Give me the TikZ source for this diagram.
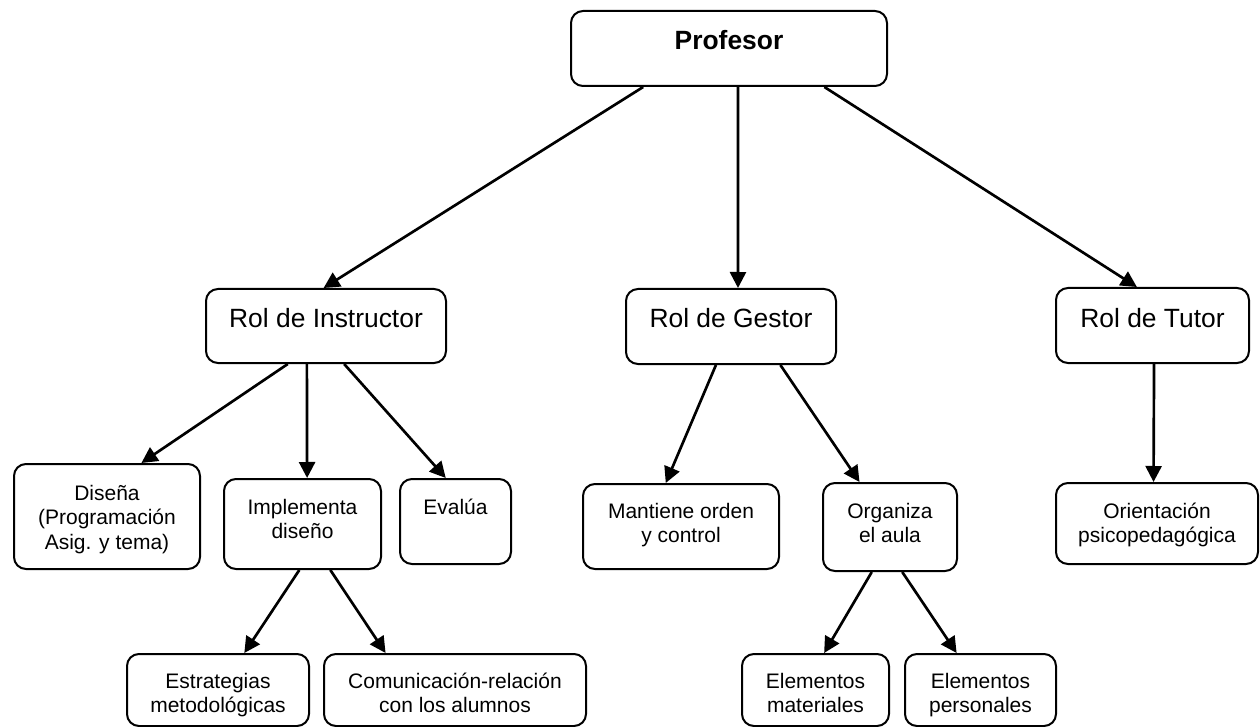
\documentclass[tikz,border=0pt]{standalone}
\usepackage{fontspec}
\setmainfont{Liberation Sans}
\usetikzlibrary{arrows.meta,calc}

% #1 width (px), #2 height (px), #3 first baseline from top (px), #4 text
\newcommand\cellbox[4]{%
  \parbox[c][\dimexpr0.75pt*#2\relax][t]{\dimexpr0.75pt*#1\relax}{%
    \centering\rule{0pt}{\dimexpr0.75pt*#3\relax}#4}}

\tikzset{
  box/.style={draw, line width=1.5pt, rounded corners=9pt, inner sep=0pt,
    anchor=north west},
  small/.style={font=\fontsize{15.75pt}{18.4pt}\selectfont},
  role/.style={font=\fontsize{19.8pt}{23pt}\selectfont},
  top/.style={font=\fontsize{19.8pt}{23pt}\selectfont\bfseries},
  arr/.style={line width=2pt, -{Triangle[length=12pt,width=12pt]}},
}

\begin{document}
\begin{tikzpicture}[x=0.75pt, y=-0.75pt]
\fill[white] (0,0) rectangle (1260,727);
\useasboundingbox (0,0) rectangle (1260,727);

% top level
\node[box, top] (prof) at (570,10) {\cellbox{316}{75}{39}{Profesor}};

% roles
\node[box, role] (inst) at (205,288) {\cellbox{240}{74}{38}{Rol de Instructor}};
\node[box, role] (gest) at (625,288) {\cellbox{210}{75}{38}{Rol de Gestor}};
\node[box, role] (tut)  at (1055,287) {\cellbox{193}{75}{39}{Rol de Tutor}};

% tasks
\node[box, small] (dis) at (13,463)  {\cellbox{186}{105}{36}{Diseña\\(Programación\\Asig. y tema)}};
\node[box, small] (imp) at (223,478) {\cellbox{157}{90}{35}{Implementa\\diseño}};
\node[box, small] (eva) at (399,478) {\cellbox{111}{85}{35}{Evalúa}};
\node[box, small] (man) at (582,483) {\cellbox{196}{85}{34}{Mantiene orden\\y control}};
\node[box, small] (org) at (822,482) {\cellbox{134}{88}{35}{Organiza\\el aula}};
\node[box, small] (ori) at (1055,482) {\cellbox{202}{81}{35}{Orientación\\psicopedagógica}};

% sub-tasks
\node[box, small] (est) at (126,653) {\cellbox{182}{72}{34}{Estrategias\\metodológicas}};
\node[box, small] (com) at (323,653) {\cellbox{262}{72}{34}{Comunicación-relación\\con los alumnos}};
\node[box, small] (mat) at (741,653) {\cellbox{147}{72}{34}{Elementos\\materiales}};
\node[box, small] (per) at (904,653) {\cellbox{151}{72}{34}{Elementos\\personales}};

% connectors
\draw[arr] ($(prof.south west)!0.23!(prof.south east)$)   -- ($(inst.north west)!0.49!(inst.north east)$);
\draw[arr] ($(prof.south west)!0.5285!(prof.south east)$) -- ($(gest.north west)!0.533!(gest.north east)$);
\draw[arr] ($(prof.south west)!0.80!(prof.south east)$)   -- ($(tut.north west)!0.42!(tut.north east)$);

\draw[arr] ($(inst.south west)!0.342!(inst.south east)$) -- ($(dis.north west)!0.683!(dis.north east)$);
\draw[arr] ($(inst.south west)!0.421!(inst.south east)$) -- ($(imp.north west)!0.529!(imp.north east)$);
\draw[arr] ($(inst.south west)!0.575!(inst.south east)$) -- ($(eva.north west)!0.414!(eva.north east)$);

\draw[arr] ($(gest.south west)!0.429!(gest.south east)$) -- ($(man.north west)!0.423!(man.north east)$);
\draw[arr] ($(gest.south west)!0.733!(gest.south east)$) -- ($(org.north west)!0.276!(org.north east)$);

\draw[arr] ($(tut.south west)!0.508!(tut.south east)$) -- ($(ori.north west)!0.483!(ori.north east)$);

\draw[arr] ($(imp.south west)!0.48!(imp.south east)$)  -- ($(est.north west)!0.643!(est.north east)$);
\draw[arr] ($(imp.south west)!0.675!(imp.south east)$) -- ($(com.north west)!0.237!(com.north east)$);

\draw[arr] ($(org.south west)!0.366!(org.south east)$) -- ($(mat.north west)!0.558!(mat.north east)$);
\draw[arr] ($(org.south west)!0.59!(org.south east)$)  -- ($(per.north west)!0.344!(per.north east)$);
\end{tikzpicture}
\end{document}
